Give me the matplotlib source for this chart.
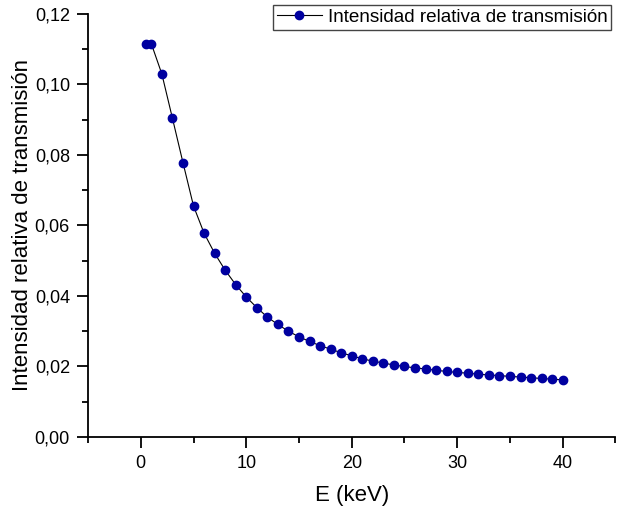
import matplotlib
matplotlib.use("Agg")
import matplotlib.pyplot as plt
from matplotlib.lines import Line2D
from matplotlib.ticker import MultipleLocator, FuncFormatter

plt.rcParams['font.family'] = ['Liberation Sans', 'DejaVu Sans']

# energia (keV) e intensidad relativa de transmision
energia = [0.5, 1, 2, 3, 4, 5, 6, 7, 8, 9, 10, 11, 12, 13, 14, 15, 16, 17, 18, 19, 20,
           21, 22, 23, 24, 25, 26, 27, 28, 29, 30, 31, 32, 33, 34, 35, 36, 37, 38, 39, 40]
intensidad = [0.1115, 0.1115, 0.1029, 0.0904, 0.0778, 0.0655, 0.0578, 0.0521, 0.0473,
              0.0432, 0.0397, 0.0367, 0.0340, 0.0319, 0.0300, 0.0284, 0.0271, 0.0259,
              0.0249, 0.0239, 0.0230, 0.0222, 0.0215, 0.0210, 0.0204, 0.0200, 0.0196,
              0.0193, 0.0189, 0.0186, 0.0183, 0.0181, 0.0178, 0.0176, 0.0174, 0.0172,
              0.0170, 0.0168, 0.0166, 0.0164, 0.0162]
etiqueta = 'Intensidad relativa de transmisión'
azul = '#0000a0'

fig = plt.figure(figsize=(6.22, 5.07), dpi=100)
ax = fig.add_axes([0.1415, 0.138, 0.848, 0.835])

ax.plot(energia, intensidad, color='black', lw=0.8, zorder=1)
ax.plot(energia, intensidad, 'o', color=azul, ms=6, zorder=2)

ax.set_xlim(-5, 45)
ax.set_ylim(0, 0.12)
ax.xaxis.set_major_locator(MultipleLocator(10))
ax.xaxis.set_minor_locator(MultipleLocator(5))
ax.yaxis.set_major_locator(MultipleLocator(0.02))
ax.yaxis.set_minor_locator(MultipleLocator(0.01))
ax.yaxis.set_major_formatter(FuncFormatter(lambda v, p: f"{v:.2f}".replace('.', ',')))

for s in ['top', 'right']:
    ax.spines[s].set_visible(False)
for s in ['left', 'bottom']:
    ax.spines[s].set_linewidth(1.3)

ax.tick_params(which='major', direction='out', length=8, width=1.3, labelsize=13, pad=5)
ax.tick_params(which='minor', direction='out', length=4, width=1.3)

ax.set_xlabel('E (keV)', fontsize=16, labelpad=9)
ax.set_ylabel(etiqueta, fontsize=16)
ax.yaxis.set_label_coords(-0.104, 0.5)

# legend: line + marker, box runs up to the right edge like the original
h = Line2D([], [], color='black', lw=0.8, marker='o', ms=6, mfc=azul, mec=azul)
fig.legend([h], [etiqueta], loc='upper left',
           bbox_to_anchor=(273 / 622, 1 - 5 / 507), fontsize=13.6,
           handlelength=2.4, handletextpad=0.3, borderpad=0.2, borderaxespad=0,
           fancybox=False, edgecolor='#444444', framealpha=1)

fig.savefig('out.png', dpi=100)
